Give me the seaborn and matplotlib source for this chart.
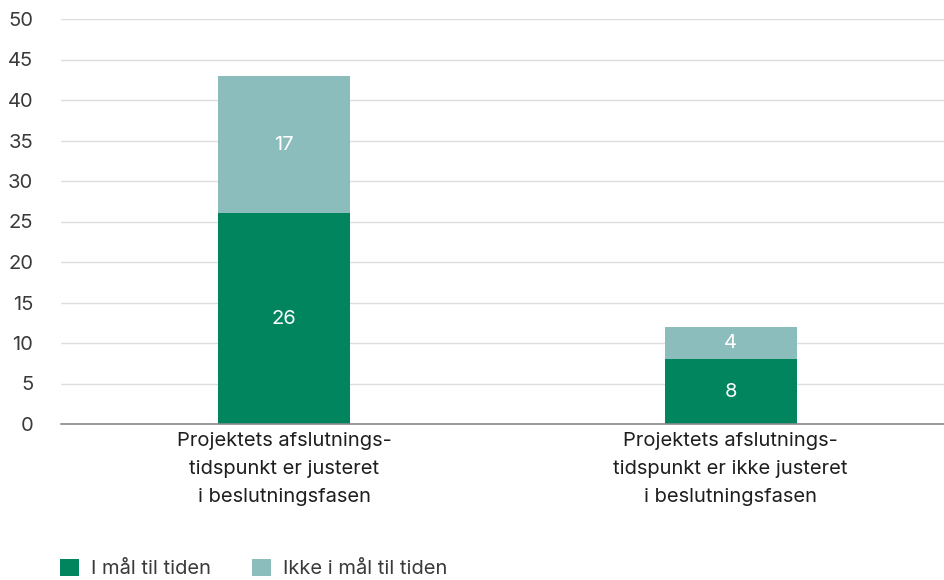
import matplotlib
matplotlib.use("Agg")
import matplotlib.pyplot as plt
from matplotlib.patches import Patch
import seaborn as sns
import pandas as pd

categories = [
    "Projektets afslutnings-\ntidspunkt er justeret\ni beslutningsfasen",
    "Projektets afslutnings-\ntidspunkt er ikke justeret\ni beslutningsfasen",
]
on_time = [26, 8]
not_on_time = [17, 4]
series_names = ["I mål til tiden", "Ikke i mål til tiden"]
y_ticks = [0, 5, 10, 15, 20, 25, 30, 35, 40, 45, 50]

dark = "#00855f"
light = "#8bbdbd"
text_col = "#3a3a3a"

sns.set_theme(style="white")
plt.rcParams["font.family"] = ["Inter", "DejaVu Sans"]

df = pd.DataFrame({
    "category": categories,
    "on_time": on_time,
    "not_on_time": not_on_time,
})
df["total"] = df["on_time"] + df["not_on_time"]

fig = plt.figure(figsize=(9.45, 5.8), dpi=100)
ax = fig.add_axes([61 / 945, 1 - 424 / 580, (945 - 61) / 945, (424 - 19) / 580])

sns.barplot(data=df, x="category", y="total", color=light, width=0.295,
            saturation=1, ax=ax, linewidth=0)
sns.barplot(data=df, x="category", y="on_time", color=dark, width=0.295,
            saturation=1, ax=ax, linewidth=0)

for i, row in df.iterrows():
    ax.text(i, row["on_time"] / 2, f"{row['on_time']}", ha="center", va="center",
            color="white", fontsize=14.5)
    ax.text(i, row["on_time"] + row["not_on_time"] / 2, f"{row['not_on_time']}",
            ha="center", va="center", color="white", fontsize=14.5)

ax.set_ylim(0, 50)
ax.set_xlim(-0.5, 1.48)
ax.set_yticks(y_ticks)
ax.yaxis.grid(True, color="#dddddd", linewidth=1)
ax.set_axisbelow(True)
for s in ["top", "right", "left"]:
    ax.spines[s].set_visible(False)
ax.spines["bottom"].set_color("#888888")
ax.spines["bottom"].set_linewidth(1.2)
ax.set_xlabel("")
ax.set_ylabel("")
ax.tick_params(axis="y", length=0, pad=20, labelsize=14.5, labelcolor=text_col)
ax.tick_params(axis="x", length=0, pad=6, labelsize=14.5, labelcolor="#1e1e1e")
for lab in ax.get_yticklabels():
    lab.set_horizontalalignment("right")
for lab in ax.get_xticklabels():
    lab.set_linespacing(1.72)

handles = [Patch(facecolor=dark, edgecolor="none"), Patch(facecolor=light, edgecolor="none")]
fig.legend(handles, series_names, loc="lower left", bbox_to_anchor=(42 / 945, -0.028),
           ncol=2, frameon=False, fontsize=14.5, labelcolor=text_col,
           handlelength=0.95, handleheight=0.95, handletextpad=0.6, columnspacing=2.0)

fig.savefig("out.png", dpi=100)
